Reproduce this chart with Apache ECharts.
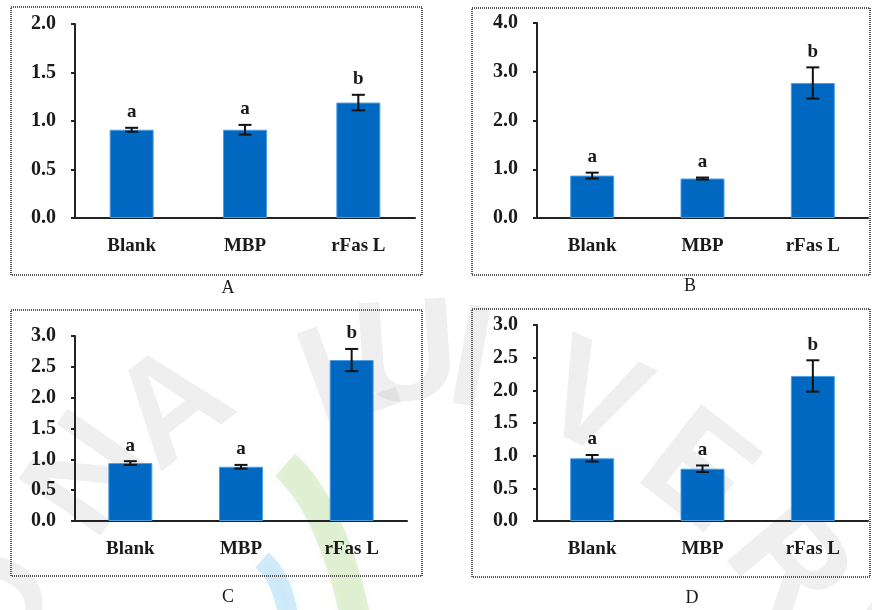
<!DOCTYPE html>
<html><head><meta charset="utf-8">
<script src="https://cdn.jsdelivr.net/npm/echarts@6/dist/echarts.min.js"></script>
<style>html,body{margin:0;padding:0;background:#fff}#c{width:872px;height:610px}</style>
</head><body><div id="c"></div>
<script>
// ---- data ----
const categories = ['Blank', 'MBP', 'rFas L'];
const panelNames = ['A', 'B', 'C', 'D'];
const meanA = [0.91, 0.91, 1.19];
const errA  = [0.02, 0.05, 0.08];
const meanB = [0.87, 0.81, 2.77];
const errB  = [0.06, 0.02, 0.32];
const meanC = [0.94, 0.88, 2.61];
const errC  = [0.03, 0.03, 0.18];
const meanD = [0.96, 0.80, 2.22];
const errD  = [0.05, 0.05, 0.24];
const sigLetters = ['a', 'a', 'b'];
const yMax = [2.0, 4.0, 3.0, 3.0];
const yInterval = [0.5, 1.0, 0.5, 0.5];
const watermarkLetters = ['O', 'N', 'A', 'L', 'U', 'I', 'V', 'E', 'R', 'S'];

// ---- layout ----
const means = [meanA, meanB, meanC, meanD];
const errs = [errA, errB, errC, errD];
const grids = [
  {left: 75, width: 340, top: 24, height: 194},
  {left: 537, width: 331, top: 23, height: 195},
  {left: 75, width: 332, top: 336, height: 185},
  {left: 537, width: 331, top: 325, height: 196}
];
const boxes = [
  {x: 11, y: 7, w: 411, h: 268},
  {x: 472, y: 8, w: 398, h: 267},
  {x: 11, y: 310, w: 411, h: 266},
  {x: 472, y: 309, w: 398, h: 268}
];
const panelLabelPos = [[228, 288], [690, 286], [228, 597], [692, 598]];
// watermark placement [x, y, rotationDeg]
const wmPlace = [[0, 610, 70], [92, 478, 55], [175, 410, 38], [350, 378, 20], [406, 360, 4],
  [470, 365, -10], [590, 405, -25], [695, 475, -38], [785, 568, -50], [868, 650, -60]];
const FONT = '"Liberation Serif", "Times New Roman", serif';
const TXT = '#1a1a1a';

const chart = echarts.init(document.getElementById('c'), null, {renderer: 'canvas'});

function errRender(params, api) {
  const x = api.value(0), m = api.value(1), e = api.value(2);
  const top = api.coord([x, m + e]);
  const bot = api.coord([x, m - e]);
  const hw = 6.5;
  const st = {stroke: '#111', lineWidth: 2};
  return {type: 'group', children: [
    {type: 'line', shape: {x1: top[0], y1: top[1], x2: bot[0], y2: bot[1]}, style: st},
    {type: 'line', shape: {x1: top[0] - hw, y1: top[1], x2: top[0] + hw, y2: top[1]}, style: st},
    {type: 'line', shape: {x1: bot[0] - hw, y1: bot[1], x2: bot[0] + hw, y2: bot[1]}, style: st},
    {type: 'text', style: {text: sigLetters[params.dataIndex], x: top[0], y: top[1] - 6,
      align: 'center', verticalAlign: 'bottom', font: 'bold 19px ' + FONT, fill: TXT}}
  ]};
}

const xAxis = [], yAxis = [], series = [], graphic = [];
// watermark (decoration, behind the charts)
watermarkLetters.forEach((ch, k) => {
  const p = wmPlace[k];
  graphic.push({type: 'text', x: p[0], y: p[1], rotation: p[2] * Math.PI / 180, z: -10, silent: true,
    style: {text: ch, font: 'bold 145px "Liberation Sans", sans-serif', fill: 'rgba(130,130,130,0.13)',
      align: 'center', verticalAlign: 'middle', shadowBlur: 16, shadowColor: 'rgba(130,130,130,0.25)'}});
});
graphic.push({type: 'bezierCurve', z: -10, silent: true,
  shape: {x1: 285, y1: 465, x2: 355, y2: 615, cpx1: 330, cpy1: 505},
  style: {stroke: 'rgba(160,210,120,0.28)', lineWidth: 30, fill: 'none', shadowBlur: 10, shadowColor: 'rgba(160,210,120,0.3)'}});
graphic.push({type: 'bezierCurve', z: -10, silent: true,
  shape: {x1: 262, y1: 560, x2: 288, y2: 615, cpx1: 282, cpy1: 577},
  style: {stroke: 'rgba(120,195,240,0.3)', lineWidth: 20, fill: 'none', shadowBlur: 10, shadowColor: 'rgba(120,195,240,0.3)'}});

for (let i = 0; i < 4; i++) {
  xAxis.push({
    type: 'category', gridIndex: i, data: categories,
    axisLine: {lineStyle: {color: '#222', width: 2}},
    axisTick: {show: false},
    axisLabel: {color: TXT, fontFamily: FONT, fontWeight: 'bold', fontSize: 19, margin: 19}
  });
  yAxis.push({
    type: 'value', gridIndex: i, min: 0, max: yMax[i], interval: yInterval[i],
    axisLine: {show: true, lineStyle: {color: '#222', width: 2}},
    axisTick: {show: true, length: 4, lineStyle: {color: '#222', width: 2}},
    splitLine: {show: false},
    axisLabel: {color: TXT, fontFamily: FONT, fontWeight: 'bold', fontSize: 20, margin: 19,
      formatter: v => v.toFixed(1)}
  });
  series.push({
    type: 'bar', xAxisIndex: i, yAxisIndex: i, data: means[i], barWidth: 44,
    itemStyle: {color: '#0068c0', borderColor: '#4f9ee2', borderWidth: 1},
    silent: true
  });
  series.push({
    type: 'custom', xAxisIndex: i, yAxisIndex: i,
    data: means[i].map((m, k) => [k, m, errs[i][k]]),
    encode: {x: 0, y: 1}, renderItem: errRender, z: 5, silent: true
  });
  const b = boxes[i];
  graphic.push({type: 'rect', shape: {x: b.x, y: b.y, width: b.w, height: b.h},
    style: {fill: 'none', stroke: '#555', lineWidth: 2, lineDash: [1, 1]}, silent: true});
  graphic.push({type: 'text', x: panelLabelPos[i][0], y: panelLabelPos[i][1],
    style: {text: panelNames[i], font: '18px ' + FONT, fill: TXT, align: 'center', verticalAlign: 'middle'}});
}

chart.setOption({
  animation: false,
  backgroundColor: '#fff',
  grid: grids,
  xAxis: xAxis,
  yAxis: yAxis,
  series: series,
  graphic: graphic
});
</script>
</body></html>
